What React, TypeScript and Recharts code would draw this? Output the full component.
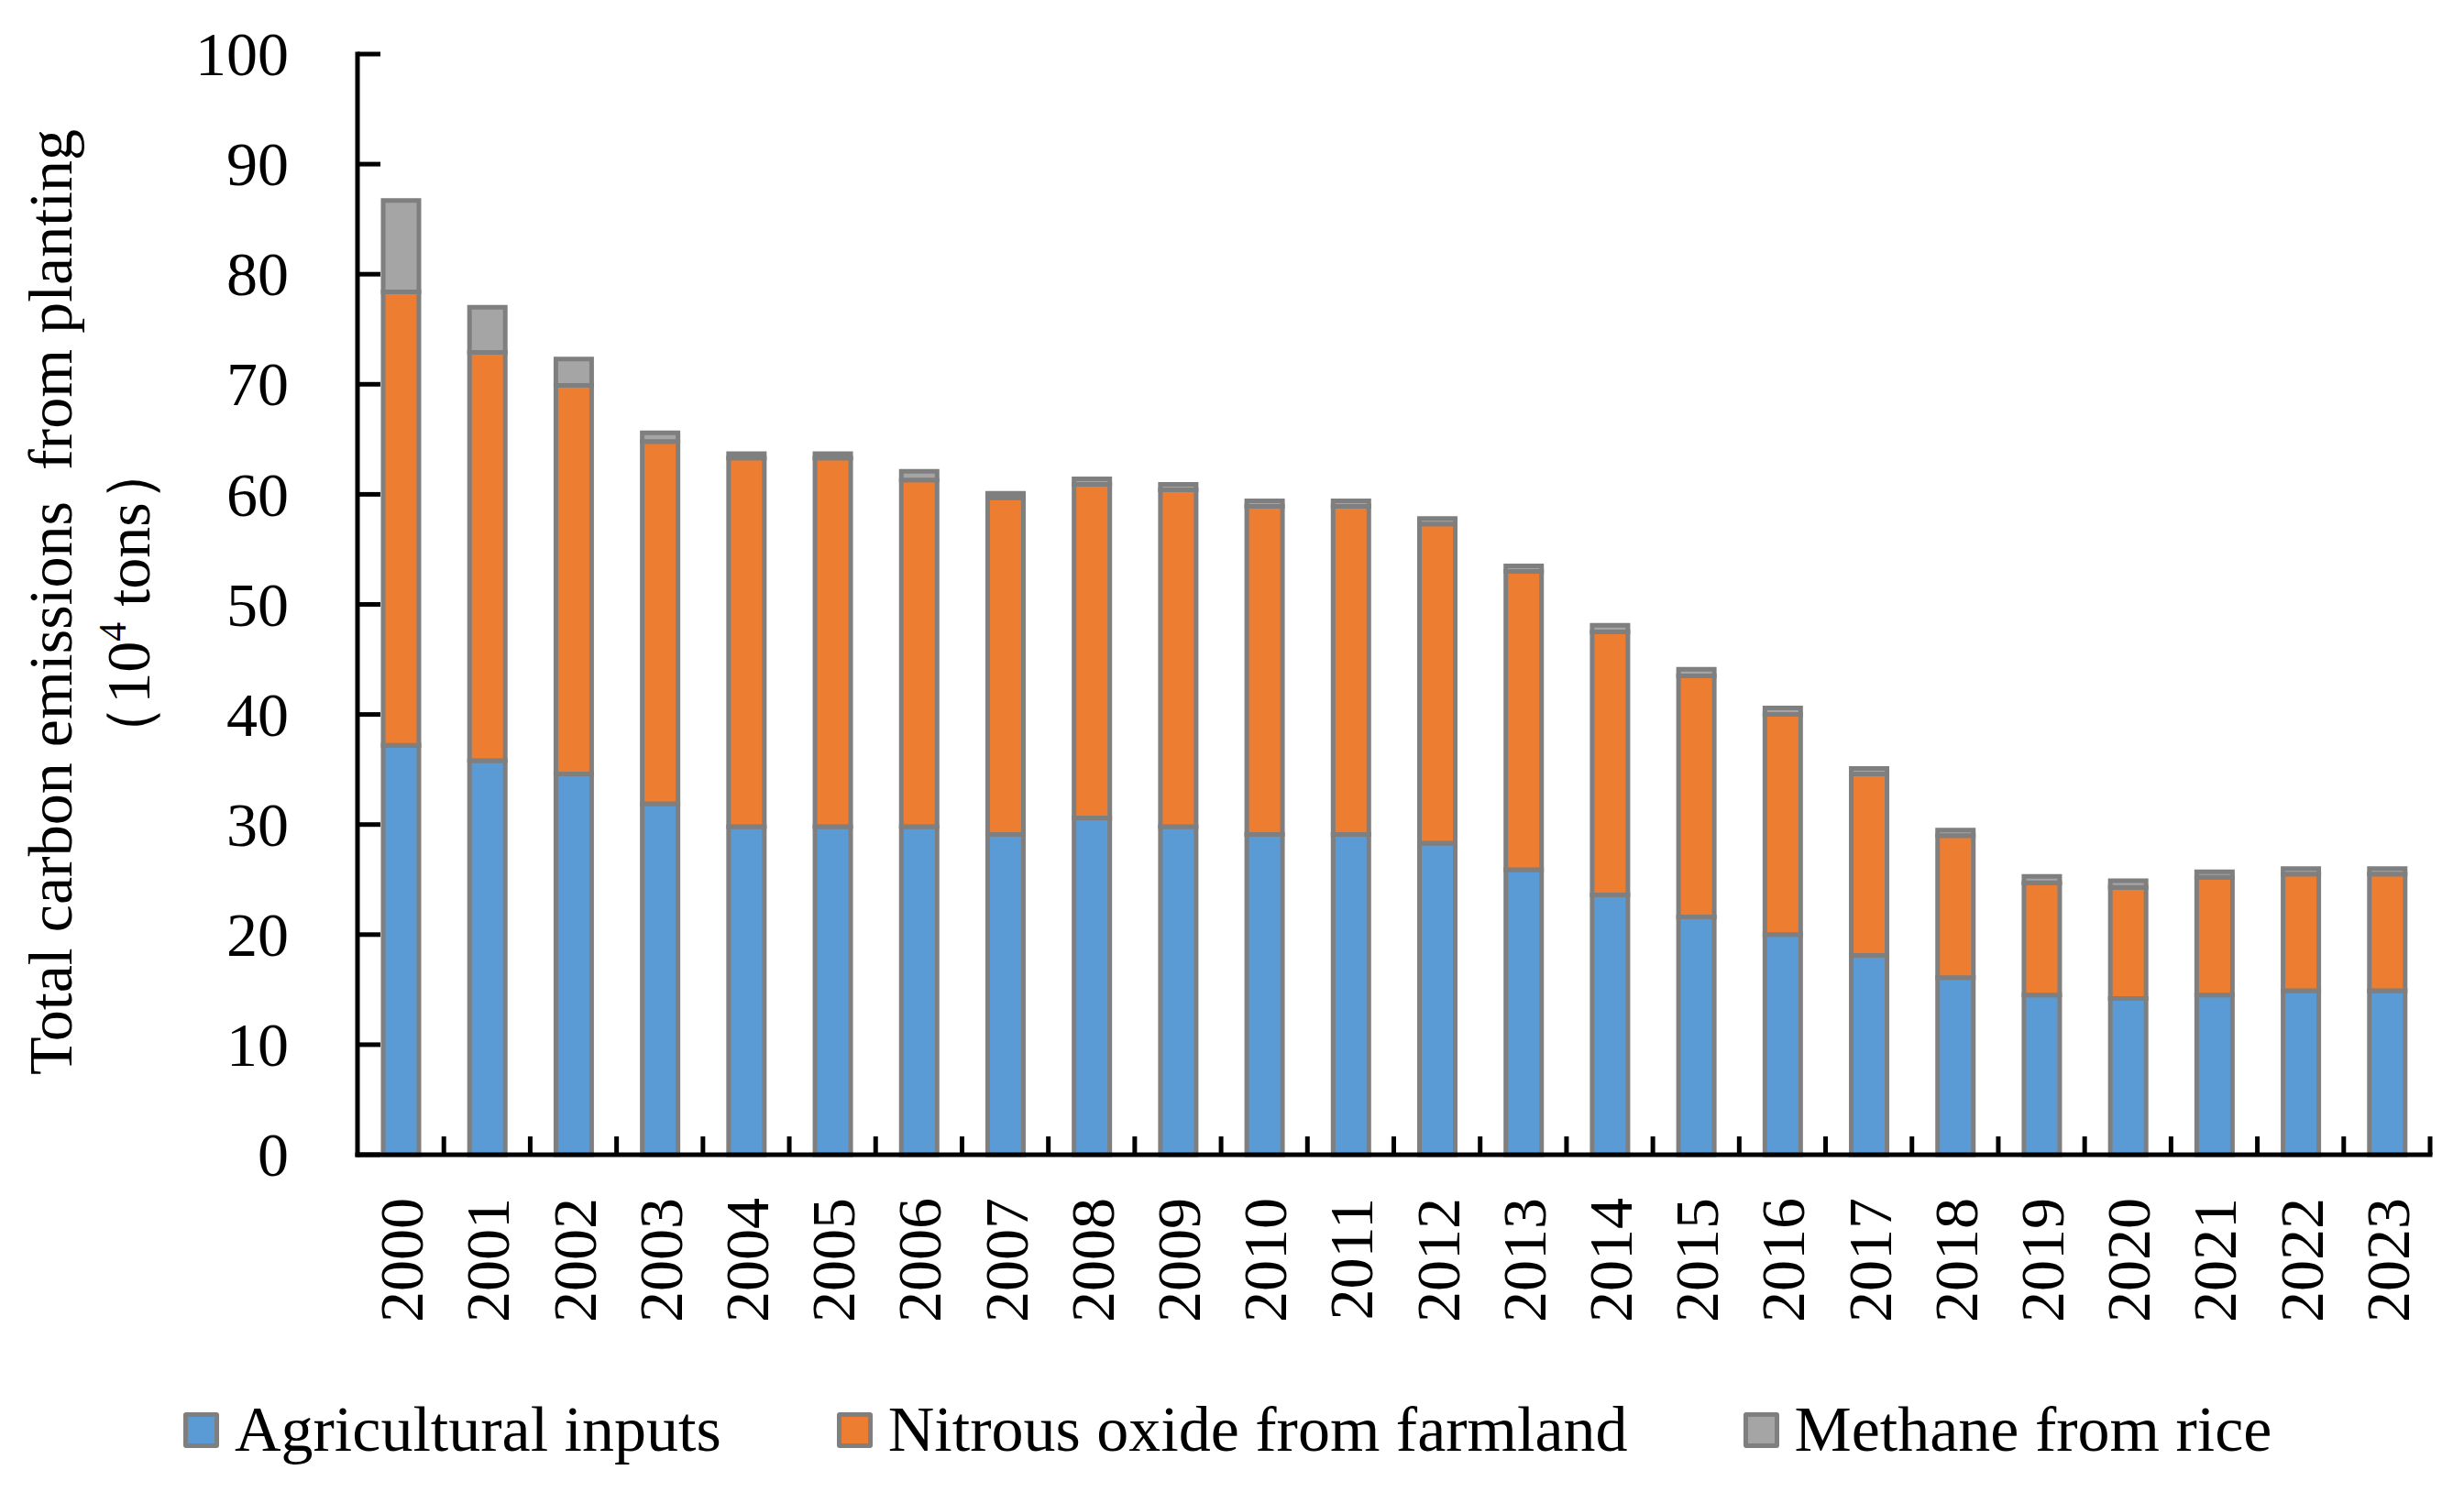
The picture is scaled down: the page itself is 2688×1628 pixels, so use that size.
import React from "react";
import { BarChart, Bar, XAxis, YAxis, Legend, Label } from "recharts";

const years = [
  "2000", "2001", "2002", "2003", "2004", "2005", "2006", "2007", "2008", "2009", "2010", "2011",
  "2012", "2013", "2014", "2015", "2016", "2017", "2018", "2019", "2020", "2021", "2022", "2023",
];
const agriculturalInputs = [
  37.2, 35.8, 34.6, 31.9, 29.8, 29.8, 29.8, 29.1, 30.6, 29.8, 29.1, 29.1,
  28.3, 25.9, 23.6, 21.6, 20.0, 18.1, 16.1, 14.5, 14.2, 14.5, 14.9, 14.9,
];
const nitrousOxide = [
  41.2, 37.1, 35.3, 32.9, 33.5, 33.5, 31.5, 30.6, 30.3, 30.6, 29.8, 29.8,
  29.0, 27.1, 23.9, 21.9, 20.0, 16.5, 12.9, 10.2, 10.1, 10.7, 10.6, 10.6,
];
const methaneRice = [
  8.3, 4.1, 2.4, 0.8, 0.4, 0.4, 0.8, 0.4, 0.5, 0.5, 0.5, 0.5,
  0.5, 0.5, 0.6, 0.6, 0.6, 0.5, 0.5, 0.6, 0.6, 0.5, 0.5, 0.5,
];
const yTicks = [0, 10, 20, 30, 40, 50, 60, 70, 80, 90, 100];

const series = [
  { key: "agri", name: "Agricultural inputs", color: "#5B9BD5" },
  { key: "n2o", name: "Nitrous oxide from farmland", color: "#ED7D31" },
  { key: "ch4", name: "Methane from rice", color: "#A5A5A5" },
];

const rows = years.map((year, i) => ({
  year,
  agri: agriculturalInputs[i],
  n2o: nitrousOxide[i],
  ch4: methaneRice[i],
}));

const W = 2672;
const H = 1612;
const Y_AXIS_W = 382;
const RIGHT = 29;
const BAND = (W - Y_AXIS_W - RIGHT) / years.length;
const FONT = '"Liberation Serif", "Times New Roman", serif';
const EDGE = "#7F7F7F";

const YTick = (props: any) => {
  const { x, y, payload } = props;
  return (
    <g>
      <line x1={x} x2={x + 25} y1={y} y2={y} stroke="#000" strokeWidth={5} />
      <text x={x - 75} y={y} dy="0.34em" textAnchor="end" fontSize={68} fontFamily={FONT} fill="#000">
        {payload.value}
      </text>
    </g>
  );
};

const XTick = (props: any) => {
  const { x, y, payload } = props;
  const tx = x + 24;
  const ty = y + 47;
  return (
    <g>
      <line x1={x + BAND / 2} x2={x + BAND / 2} y1={y} y2={y - 20} stroke="#000" strokeWidth={5} />
      <text
        x={tx}
        y={ty}
        transform={`rotate(-90, ${tx}, ${ty})`}
        textAnchor="end"
        fontSize={68}
        fontFamily={FONT}
        fill="#000"
      >
        {payload.value}
      </text>
    </g>
  );
};

const YTitle = () => (
  <g fontFamily={FONT} fontSize={68} fill="#000">
    <text x={70} y={649} transform="rotate(-90, 70, 649)" textAnchor="middle" style={{ whiteSpace: "pre" }}>
      Total carbon emissions  from planting
    </text>
    <text x={155} y={650} transform="rotate(-90, 155, 650)" textAnchor="middle">
      （10<tspan fontSize={42} dy={-26}>4</tspan>
      <tspan dy={26}> tons）</tspan>
    </text>
  </g>
);

const renderLegend = () => (
  <div
    style={{
      display: "flex",
      alignItems: "center",
      height: 100,
      boxSizing: "border-box",
      paddingLeft: 192,
      paddingBottom: 20,
      fontFamily: FONT,
      fontSize: 70,
      lineHeight: 1,
      color: "#000",
    }}
  >
    {series.map((s) => (
      <div key={s.key} style={{ display: "flex", alignItems: "center", marginRight: 126 }}>
        <div
          style={{
            width: 39,
            height: 39,
            boxSizing: "border-box",
            border: `5px solid ${EDGE}`,
            borderRadius: 3,
            background: s.color,
            marginRight: 17,
          }}
        />
        <span style={{ whiteSpace: "nowrap" }}>{s.name}</span>
      </div>
    ))}
  </div>
);

export default function App() {
  return (
    <div style={{ width: W, height: H, fontFamily: FONT, background: "#fff" }}>
      <BarChart width={W} height={H} data={rows} margin={{ top: 51, right: RIGHT, left: 0, bottom: 0 }} barSize={39}>
        <XAxis
          dataKey="year"
          height={260}
          interval={0}
          tickSize={0}
          tickMargin={0}
          tickLine={false}
          axisLine={{ stroke: "#000", strokeWidth: 5, strokeLinecap: "square" }}
          tick={<XTick />}
        />
        <YAxis
          width={Y_AXIS_W}
          domain={[0, 100]}
          ticks={yTicks}
          interval={0}
          tickSize={0}
          tickMargin={0}
          tickLine={false}
          axisLine={{ stroke: "#000", strokeWidth: 5, strokeLinecap: "square" }}
          tick={<YTick />}
        >
          <Label content={() => <YTitle />} />
        </YAxis>
        <Legend
          verticalAlign="bottom"
          align="left"
          content={renderLegend}
          wrapperStyle={{ left: 0, bottom: 0, width: W, height: 100 }}
        />
        {series.map((s) => (
          <Bar
            key={s.key}
            dataKey={s.key}
            name={s.name}
            stackId="total"
            fill={s.color}
            stroke={EDGE}
            strokeWidth={5}
            isAnimationActive={false}
          />
        ))}
      </BarChart>
    </div>
  );
}
